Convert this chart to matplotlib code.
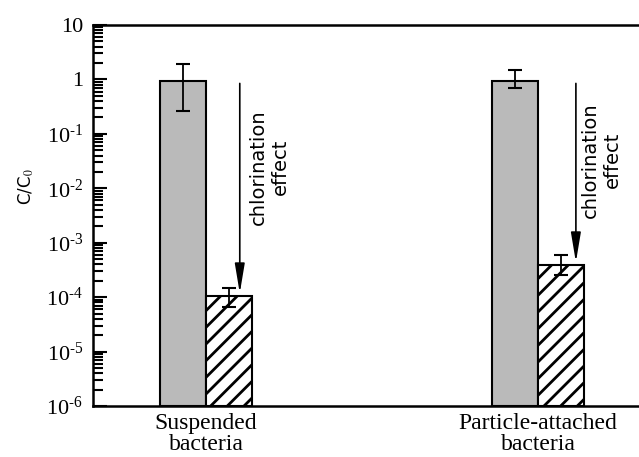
import matplotlib
matplotlib.use("Agg")
import matplotlib.pyplot as plt
import matplotlib.ticker as mticker
import numpy as np

groups = ["Suspended\nbacteria", "Particle-attached\nbacteria"]
before = [0.95, 0.95]
before_hi = [1.9, 1.5]
before_lo = [0.26, 0.70]
after = [1.05e-4, 3.9e-4]
after_hi = [1.5e-4, 5.9e-4]
after_lo = [0.65e-4, 2.5e-4]
decades = [-6, -5, -4, -3, -2, -1, 0, 1]
arrow_label = "chlorination\neffect"

plt.rcParams['font.family'] = ['Liberation Serif', 'DejaVu Serif']
plt.rcParams['mathtext.fontset'] = 'stix'
plt.rcParams['hatch.linewidth'] = 2.0


def yfmt(v, pos):
	e = int(round(np.log10(v)))
	if e == 1:
		return "10"
	if e == 0:
		return "1"
	return r"$\mathregular{10^{\text{-}%d}}$" % (-e)


def main():
	fig = plt.figure(figsize=(6.39, 4.57), dpi=100)
	ax = fig.add_axes([0.1455, 0.1116, 0.8545, 0.8337])
	x = np.arange(len(groups))
	w = 0.139

	b = np.array(before)
	a = np.array(after)
	ax.bar(x - w / 2, b, w, bottom=1e-6, color='#bababa', edgecolor='black', linewidth=1.5)
	ax.bar(x + w / 2, a, w, bottom=1e-6, color='white', edgecolor='black', linewidth=1.5, hatch='//')
	ax.errorbar(x - w / 2, b, yerr=[b - np.array(before_lo), np.array(before_hi) - b],
				fmt='none', ecolor='black', elinewidth=1.3, capsize=5, capthick=1.5)
	ax.errorbar(x + w / 2, a, yerr=[a - np.array(after_lo), np.array(after_hi) - a],
				fmt='none', ecolor='black', elinewidth=1.3, capsize=5, capthick=1.5)

	offs = [0.102, 0.114]
	text_y = [10 ** -1.61, 10 ** -1.48]
	for i in range(len(groups)):
		ax.annotate("", xy=(x[i] + offs[i], a[i]), xytext=(x[i] + offs[i], b[i]),
					arrowprops=dict(arrowstyle='-|>,head_length=1.8,head_width=0.3', color='black', lw=1.2))
		ax.text(x[i] + 0.19, text_y[i], arrow_label, rotation=90, ha='center', va='center',
				fontsize=14, family='DejaVu Sans', linespacing=1.2)

	ax.set_yscale('log')
	ax.set_ylim(1e-6, 10)
	ax.set_xlim(-0.340, 1.304)
	ax.set_xticks(x)
	ax.set_xticklabels(groups, fontsize=17, linespacing=1.0)
	ax.tick_params(axis='x', length=0, pad=5)
	major = [10.0 ** d for d in decades]
	minor = [m * 10.0 ** d for d in decades[:-1] for m in range(2, 10)]
	ax.yaxis.set_major_locator(mticker.FixedLocator(major))
	ax.yaxis.set_minor_locator(mticker.FixedLocator(minor))
	ax.yaxis.set_major_formatter(mticker.FuncFormatter(yfmt))
	ax.yaxis.set_minor_formatter(mticker.NullFormatter())
	ax.tick_params(axis='y', which='major', direction='in', length=10, width=1.5, labelsize=16, pad=7)
	ax.tick_params(axis='y', which='minor', direction='in', length=7, width=1.5)
	ax.spines['right'].set_visible(False)
	for s in ['left', 'top', 'bottom']:
		ax.spines[s].set_linewidth(1.8)
	ax.set_ylabel(r"C/C$_0$", family='DejaVu Sans', fontsize=12)
	ax.yaxis.set_label_coords(-0.105, 0.575)

	fig.savefig("out.png", dpi=100)


if __name__ == "__main__":
	main()
